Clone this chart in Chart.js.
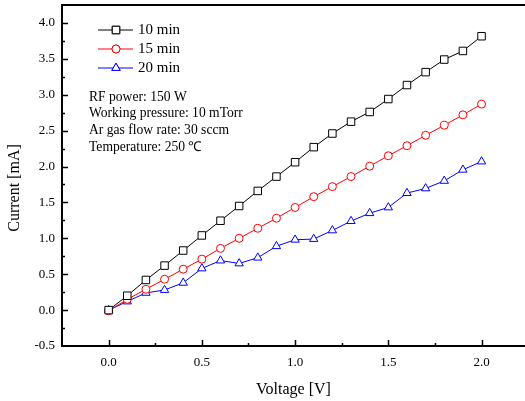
<!DOCTYPE html>
<html lang="en">
<head>
    <meta charset="UTF-8">
    <title>Chart</title>
    <script src="https://cdn.jsdelivr.net/npm/chart.js"></script>
    <style type="text/css">
        html, body {
            margin: 0;
            padding: 0;
            overflow: hidden;
            background: #fff;
        }

        canvas {
            display: block;
        }
    </style>
</head>
<body>
<canvas id="myChart" width="525" height="401"></canvas>

<script>
  // voltage steps [V]
  var voltage = [0.0, 0.1, 0.2, 0.3, 0.4, 0.5, 0.6, 0.7, 0.8, 0.9, 1.0,
                 1.1, 1.2, 1.3, 1.4, 1.5, 1.6, 1.7, 1.8, 1.9, 2.0];
  // current [mA] per deposition time
  var current10 = [0.00, 0.20, 0.42, 0.62, 0.83, 1.04, 1.245, 1.45, 1.66, 1.86, 2.06,
                   2.27, 2.46, 2.625, 2.76, 2.94, 3.135, 3.315, 3.49, 3.61, 3.815];
  var current15 = [-0.01, 0.15, 0.29, 0.43, 0.57, 0.71, 0.86, 1.00, 1.14, 1.28, 1.43,
                   1.58, 1.72, 1.86, 2.005, 2.15, 2.29, 2.435, 2.575, 2.72, 2.87];
  var current20 = [0.00, 0.12, 0.24, 0.28, 0.38, 0.58, 0.69, 0.65, 0.73, 0.89, 0.98,
                   0.99, 1.11, 1.24, 1.35, 1.43, 1.63, 1.695, 1.80, 1.955, 2.07];
  var seriesLabels = ['10 min', '15 min', '20 min'];
  var xTickValues = [0, 0.5, 1.0, 1.5, 2.0];
  var yTickValues = [-0.5, 0, 0.5, 1.0, 1.5, 2.0, 2.5, 3.0, 3.5, 4.0];
  var yTitle = 'Current [mA]';
  var notes = ['RF power: 150 W', 'Working pressure: 10 mTorr', 'Ar gas flow rate: 30 sccm', 'Temperature: 250 \u2103'];

  var serif = 'Liberation Serif, Times New Roman, serif';

  function toPoints(ys) {
    var pts = [];
    for (var i = 0; i < voltage.length; i++) {
      pts.push({x: voltage[i], y: ys[i]});
    }
    return pts;
  }

  function makeSet(label, ys, color, style, radius) {
    return {
      label: label,
      data: toPoints(ys),
      borderColor: color,
      borderWidth: 1,
      pointStyle: style,
      pointRadius: radius,
      pointBorderColor: color,
      pointBackgroundColor: '#fff',
      pointBorderWidth: 1,
      tension: 0
    };
  }

  var datasets = [
    makeSet(seriesLabels[0], current10, '#000', 'rect', 5.3),
    makeSet(seriesLabels[1], current15, '#ff0000', 'circle', 4),
    makeSet(seriesLabels[2], current20, '#0000ff', 'triangle', 4.8)
  ];

  // frame top line, inward ticks, y title, legend and notes
  var decorations = {
    id: 'decorations',
    afterDraw: function (chart) {
      var ctx = chart.ctx;
      var a = chart.chartArea;
      var xs = chart.scales.x;
      var ys = chart.scales.y;
      ctx.save();
      ctx.strokeStyle = '#000';
      ctx.lineWidth = 2;
      ctx.beginPath();
      ctx.moveTo(a.left - 1, a.top);
      ctx.lineTo(a.right, a.top);
      ctx.stroke();

      ctx.lineWidth = 1.5;
      ctx.beginPath();
      for (var v = 0; v <= 2.25; v += 0.25) {
        var px = Math.round(xs.getPixelForValue(v)) + 0.5;
        var len = (Math.round(v * 4) % 2 === 0) ? 6 : 3;
        ctx.moveTo(px, a.bottom);
        ctx.lineTo(px, a.bottom - len);
      }
      for (var w = -0.25; w <= 4.0001; w += 0.25) {
        var py = Math.round(ys.getPixelForValue(w)) + 0.5;
        var len2 = (Math.round(w * 4) % 2 === 0) ? 6 : 3;
        ctx.moveTo(a.left, py);
        ctx.lineTo(a.left + len2, py);
      }
      ctx.stroke();

      // y axis title (sits a bit below the plot centre in the original)
      ctx.fillStyle = '#000';
      ctx.font = '16px ' + serif;
      ctx.textAlign = 'center';
      ctx.textBaseline = 'middle';
      ctx.save();
      ctx.translate(15, 188);
      ctx.rotate(-Math.PI / 2);
      ctx.fillText(yTitle, 0, 0);
      ctx.restore();

      // legend
      ctx.font = '15px ' + serif;
      ctx.textAlign = 'left';
      for (var i = 0; i < chart.data.datasets.length; i++) {
        var ds = chart.data.datasets[i];
        var ly = 30 + i * 19;
        ctx.strokeStyle = ds.borderColor;
        ctx.lineWidth = 1;
        ctx.beginPath();
        ctx.moveTo(98, ly);
        ctx.lineTo(133, ly);
        ctx.stroke();
        ctx.fillStyle = '#fff';
        Chart.helpers.drawPoint(ctx, {pointStyle: ds.pointStyle, radius: ds.pointRadius, borderWidth: 1, rotation: 0}, 116, ly);
        ctx.fill();
        ctx.stroke();
        ctx.fillStyle = '#000';
        ctx.fillText(ds.label, 138, ly);
      }

      // notes
      ctx.font = '13.6px ' + serif;
      for (var j = 0; j < notes.length; j++) {
        ctx.fillText(notes[j], 89, 97 + j * 16.8);
      }
      ctx.restore();
    }
  };

  var ctx = document.getElementById('myChart').getContext('2d');

  var myChart = new Chart(ctx, {
    type: 'line',
    data: {datasets: datasets},
    plugins: [decorations],
    options: {
      responsive: false,
      animation: false,
      devicePixelRatio: 1,
      layout: {autoPadding: false, padding: {top: 5, right: 0, left: 0, bottom: 0}},
      plugins: {
        legend: {display: false},
        tooltip: {enabled: false}
      },
      scales: {
        x: {
          type: 'linear',
          min: -0.25,
          max: 2.233,
          grid: {display: false, drawTicks: false},
          border: {display: true, color: '#000', width: 2},
          afterBuildTicks: function (scale) {
            scale.ticks = xTickValues.map(function (v) { return {value: v}; });
          },
          afterFit: function (scale) {
            scale.height = 55;
            scale.paddingLeft = 0;
            scale.paddingRight = 0;
          },
          ticks: {
            color: '#000',
            padding: 9,
            font: {family: serif, size: 13},
            callback: function (v) { return v.toFixed(1); }
          },
          title: {
            display: true,
            text: 'Voltage [V]',
            color: '#000',
            font: {family: serif, size: 16},
            padding: {top: 0, bottom: 2}
          }
        },
        y: {
          min: -0.5,
          max: 4.25,
          grid: {display: false, drawTicks: false},
          border: {display: true, color: '#000', width: 2},
          afterBuildTicks: function (scale) {
            scale.ticks = yTickValues.map(function (v) { return {value: v}; });
          },
          afterFit: function (scale) {
            scale.width = 62;
            scale.paddingTop = 0;
            scale.paddingBottom = 0;
          },
          ticks: {
            color: '#000',
            padding: 7,
            font: {family: serif, size: 13},
            callback: function (v) { return v.toFixed(1); }
          }
        }
      }
    }
  });
</script>
</body>
</html>
